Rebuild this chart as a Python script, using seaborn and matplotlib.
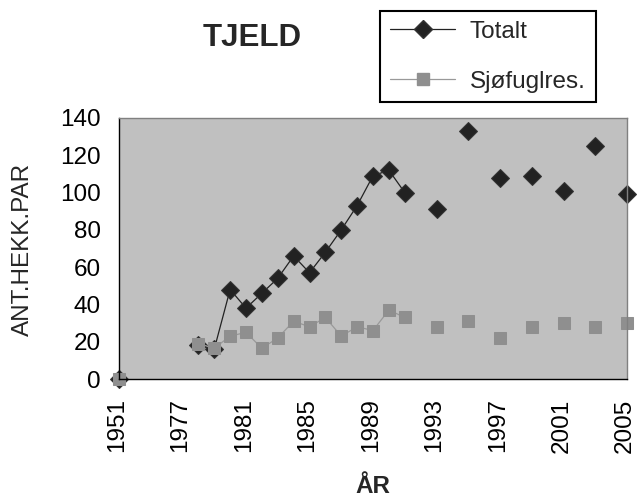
import numpy as np
import pandas as pd
import matplotlib
matplotlib.use("Agg")
import matplotlib.pyplot as plt
import matplotlib.transforms as mtransforms
import seaborn as sns
from matplotlib.lines import Line2D

nan = np.nan

# categories on the x axis (Excel category axis, only every 4th labelled)
years = ["1951", "1974", "1975", "1976", "1977", "1978", "1979", "1980", "1981",
         "1982", "1983", "1984", "1985", "1986", "1987", "1988", "1989", "1990",
         "1991", "1992", "1993", "1994", "1995", "1996", "1997", "1998", "1999",
         "2000", "2001", "2002", "2003", "2004", "2005"]

totalt = [0, nan, nan, nan, nan, 18, 16, 48, 38, 46, 54, 66, 57, 68, 80, 93,
          109, 112, 100, nan, 91, nan, 133, nan, 108, nan, 109, nan, 101, nan,
          125, nan, 99]

sjofugl = [0, nan, nan, nan, nan, 19, 16.5, 23, 25, 16.5, 22, 31, 28, 33, 23,
           28, 26, 37, 33, nan, 28, nan, 31, nan, 22, nan, 28, nan, 30, nan,
           28, nan, 30]

series_names = ["Totalt", "Sjøfuglres."]


def segments(values):
    # Excel leaves gaps where a year is missing -> split into line segments
    d = pd.DataFrame({"pos": np.arange(len(years)), "val": values})
    d["seg"] = d["val"].isna().cumsum()
    return d.dropna()


sns.set_style("white")
plt.rcParams["font.family"] = ["Liberation Sans", "DejaVu Sans"]

fig = plt.figure(figsize=(6.37, 4.97), dpi=100)
ax = fig.add_axes([119 / 637, 1 - 379 / 497, (627 - 119) / 637, (379 - 118) / 497])
ax.set_facecolor("#c0c0c0")

df_tot = segments(totalt)
df_sjo = segments(sjofugl)

sns.lineplot(data=df_tot, x="pos", y="val", units="seg", estimator=None,
             color="#222222", lw=0.9, marker="D", ms=8.8, mec="#333333",
             mfc="#222222", clip_on=False, ax=ax, legend=False)
sns.lineplot(data=df_sjo, x="pos", y="val", units="seg", estimator=None,
             color="#999999", lw=0.9, marker="s", ms=9.3, mec="#8f8f8f",
             mfc="#8f8f8f", clip_on=False, ax=ax, legend=False)

ax.set_xlim(0, len(years) - 1)
ax.set_ylim(0, 140)
ax.set_yticks(range(0, 141, 20))
ax.set_xticks(range(len(years)))
ax.set_xticklabels([y if i % 4 == 0 else "" for i, y in enumerate(years)],
                   rotation=90)
ax.tick_params(axis="both", direction="inout", length=10, width=1,
               color="black", labelsize=17.5, labelcolor="black")
ax.tick_params(axis="x", pad=9)
ax.tick_params(axis="y", pad=8)
ax.set_xlabel("")
ax.set_ylabel("")

# nudge the rotated year labels a little to the left, like Excel does
shift = mtransforms.ScaledTranslation(-2 / 100, 0, fig.dpi_scale_trans)
for lab in ax.get_xticklabels():
    lab.set_transform(lab.get_transform() + shift)

for s in ["left", "bottom"]:
    ax.spines[s].set_color("black")
    ax.spines[s].set_linewidth(1)
for s in ["top", "right"]:
    ax.spines[s].set_color("#808080")
    ax.spines[s].set_linewidth(1)

fig.text(252 / 637, 1 - 38 / 497, "TJELD", fontsize=22.5, fontweight="bold",
         ha="center", va="center")
fig.text(373 / 637, 1 - 493 / 497, "ÅR", fontsize=17.5, fontweight="bold",
         ha="center", va="baseline")
fig.text(22.5 / 637, 1 - 249 / 497, "ANT.HEKK.PAR", fontsize=17.5,
         rotation=90, ha="center", va="center")

handles = [
    Line2D([], [], color="#222222", lw=0.9, marker="D", ms=8.8,
           mfc="#222222", mec="#333333"),
    Line2D([], [], color="#999999", lw=0.9, marker="s", ms=9.3,
           mfc="#8f8f8f", mec="#8f8f8f"),
]
leg = fig.legend(handles, series_names, loc="upper left",
                 bbox_to_anchor=(380 / 637, 1 - 11 / 497), fontsize=17.5,
                 frameon=True, fancybox=False, framealpha=1, edgecolor="black",
                 handlelength=2.7, handletextpad=0.6, labelspacing=1.15,
                 borderpad=0.4, borderaxespad=0)
leg.get_frame().set_linewidth(1.5)

fig.savefig("out.png", dpi=100)
